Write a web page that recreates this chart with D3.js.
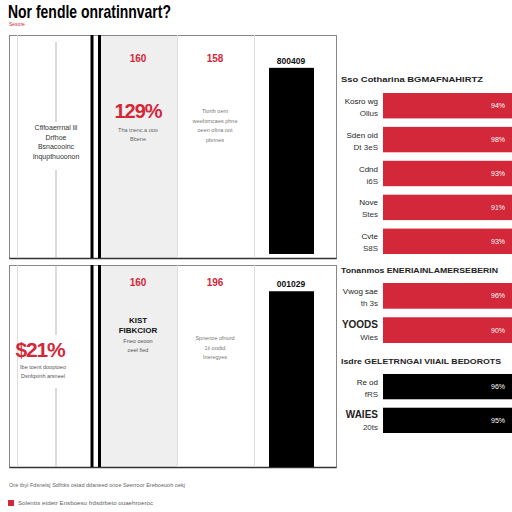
<!DOCTYPE html>
<html>
<head>
<meta charset="utf-8">
<script src="https://cdn.jsdelivr.net/npm/d3@7"></script>
<style>
  body { margin: 0; background: #fff; }
  text { font-family: "Liberation Sans", Arial, sans-serif; }
</style>
</head>
<body>
<div id="chart"></div>
<script>
// ---- data ----
var title = "Nor fendle onratinnvart?";
var subtitle = "Sesore";
var colHeads = [["160", "158"], ["160", "196"]];
var bigStats = ["129%", "$21%"];
var barTags = ["800409", "001029"];
var barValues = [85, 87];
var leftNotes = [
    ["Cflfoaerrnal lil", "Drfhoe", "Bsnacooinc", "Inqupthuoonon"],
    ["Ibe toent dooptoeo", "Dsnfqxinh arsneel"]
];
var statNotes = [["Tha tnenc.a ooo", "Bbene"], ["Fneo oeoon", "oeel fied"]];
var midNotes = [
    ["Tiorth oem", "weeforncaes phne", "oeen oltna oot", "pbnnes"],
    ["Spnenoe ofnurd", "1ii oodtd", "Ineregyes"]
];
var kicker = ["KIST", "FIBKCIOR"];

var groupTitles = ["Sso Cotharina BGMAFNAHIRTZ", "Tonanmos ENERIAINLAMERSEBERIN", "Isdre GELETRNGAI VIIAIL BEDOROTS"];
var topLabels = [["Kosro wg", "Ollus"], ["Sden oid", "Dt 3eS"], ["Cdnd", "i6S"], ["Nove", "Stes"], ["Cvte", "S8S"]];
var topValues = [94, 98, 93, 91, 93];
var redLabels = [["Vwog sae", "th 3s"], ["YOODS", "Wies"]];
var redValues = [96, 90];
var blackLabels = [["Re od", "fRS"], ["WAIES", "20ts"]];
var blackValues = [96, 95];

var footNote = "Ore tbyi Fdsnelsj Sdfrtks ostad ddaneed onoe Seerroor Ereboeuoh oekj";
var sourceNote = "Solentts etdetr Ensboesu frdsdrbeto ouaehroeroc";

var red = "#d2283a";

var W = 512, H = 512;
var svg = d3.select("#chart").append("svg")
    .attr("width", W)
    .attr("height", H);

svg.append("text")
    .attr("x", 8).attr("y", 18)
    .attr("font-size", 19).attr("font-weight", "bold")
    .attr("textLength", 163).attr("lengthAdjust", "spacingAndGlyphs")
    .attr("fill", "#000")
    .text(title);

svg.append("text")
    .attr("x", 9).attr("y", 26)
    .attr("font-size", 5).attr("fill", red)
    .text(subtitle);

// ---- left panels ----
var panels = [
    { top: 35, bottom: 258 },
    { top: 265, bottom: 467 }
];
var colX = [9, 17, 56, 92, 100, 177, 254, 336];

panels.forEach(function(p, i) {
    var g = svg.append("g");
    var y = d3.scaleLinear().domain([0, 100]).range([p.bottom - (i === 0 ? 4 : 0), p.top]);

    // grey column
    g.append("rect")
        .attr("x", colX[4]).attr("y", p.top)
        .attr("width", colX[5] - colX[4]).attr("height", p.bottom - p.top)
        .attr("fill", "#efefef");

    // frame
    g.append("rect")
        .attr("x", colX[0] + 0.5).attr("y", p.top + 0.5)
        .attr("width", colX[7] - colX[0]).attr("height", p.bottom - p.top)
        .attr("fill", "none").attr("stroke", "#888").attr("stroke-width", 1);
    g.append("line")
        .attr("x1", colX[0] + 0.5).attr("x2", colX[7] + 0.5)
        .attr("y1", p.bottom + 0.5).attr("y2", p.bottom + 0.5)
        .attr("stroke", "#333").attr("stroke-width", 1.5);

    [colX[1], colX[5], colX[6]].forEach(function(x) {
        g.append("line")
            .attr("x1", x + 0.5).attr("x2", x + 0.5)
            .attr("y1", p.top).attr("y2", p.bottom)
            .attr("stroke", "#ddd");
    });
    [colX[3], colX[4] - 0.5].forEach(function(x) {
        g.append("line")
            .attr("x1", x).attr("x2", x)
            .attr("y1", p.top).attr("y2", p.bottom)
            .attr("stroke", "#000").attr("stroke-width", 3);
    });

    // broken grey guide line in the first column
    var gap = i === 0 ? [122, 170] : [335, 388];
    [[p.top + (i === 0 ? 7 : 0), gap[0]], [gap[1], p.bottom]].forEach(function(s) {
        g.append("line")
            .attr("x1", colX[2]).attr("x2", colX[2])
            .attr("y1", s[0]).attr("y2", s[1])
            .attr("stroke", "#b5b5b5").attr("stroke-width", 1);
    });

    // column heads
    [138, 215].forEach(function(cx, k) {
        g.append("text")
            .attr("x", cx).attr("y", p.top + (i === 0 ? 27 : 21))
            .attr("text-anchor", "middle")
            .attr("font-size", 10).attr("font-weight", "bold")
            .attr("fill", red)
            .text(colHeads[i][k]);
    });

    // black bar
    g.append("rect")
        .attr("x", 269).attr("y", y(barValues[i]))
        .attr("width", 45).attr("height", y(0) - y(barValues[i]))
        .attr("fill", "#000");
    g.append("text")
        .attr("x", 291).attr("y", y(barValues[i]) - 4)
        .attr("text-anchor", "middle")
        .attr("font-size", 8.5).attr("font-weight", "bold")
        .attr("fill", "#111")
        .text(barTags[i]);
});

// top panel texts
var t0 = svg.append("g");
t0.selectAll("text.note")
    .data(leftNotes[0]).enter().append("text")
    .attr("x", 56).attr("y", function(d, k) { return 130 + k * 9.5; })
    .attr("text-anchor", "middle")
    .attr("font-size", 7).attr("fill", "#333")
    .text(d => d);

t0.append("text")
    .attr("x", 138).attr("y", 118)
    .attr("text-anchor", "middle")
    .attr("font-size", 20).attr("font-weight", "bold")
    .attr("letter-spacing", -1)
    .attr("fill", red)
    .text(bigStats[0]);
t0.selectAll("text.stat")
    .data(statNotes[0]).enter().append("text")
    .attr("x", 138).attr("y", function(d, k) { return 132 + k * 9; })
    .attr("text-anchor", "middle")
    .attr("font-size", 5.5).attr("fill", "#666")
    .text(d => d);
t0.selectAll("text.mid")
    .data(midNotes[0]).enter().append("text")
    .attr("x", 215).attr("y", function(d, k) { return 113 + k * 9.5; })
    .attr("text-anchor", "middle")
    .attr("font-size", 5.5).attr("fill", "#777")
    .text(d => d);

// bottom panel texts
var t1 = svg.append("g");
t1.append("text")
    .attr("x", 40).attr("y", 357)
    .attr("text-anchor", "middle")
    .attr("font-size", 21).attr("font-weight", "bold")
    .attr("letter-spacing", -1.2)
    .attr("fill", red)
    .text(bigStats[1]);
t1.selectAll("text.note")
    .data(leftNotes[1]).enter().append("text")
    .attr("x", 43).attr("y", function(d, k) { return 369 + k * 8.5; })
    .attr("text-anchor", "middle")
    .attr("font-size", 5.5).attr("fill", "#555")
    .text(d => d);
t1.selectAll("text.kick")
    .data(kicker).enter().append("text")
    .attr("x", 138).attr("y", function(d, k) { return 323 + k * 9.5; })
    .attr("text-anchor", "middle")
    .attr("font-size", 8).attr("font-weight", "bold")
    .attr("fill", "#111")
    .text(d => d);
t1.selectAll("text.stat")
    .data(statNotes[1]).enter().append("text")
    .attr("x", 138).attr("y", function(d, k) { return 343 + k * 9; })
    .attr("text-anchor", "middle")
    .attr("font-size", 5.5).attr("fill", "#555")
    .text(d => d);
t1.selectAll("text.mid")
    .data(midNotes[1]).enter().append("text")
    .attr("x", 215).attr("y", function(d, k) { return 340 + k * 9.5; })
    .attr("text-anchor", "middle")
    .attr("font-size", 5.5).attr("fill", "#777")
    .text(d => d);

// ---- right bar groups ----
var x = d3.scaleLinear().domain([0, 90]).range([0, W - 383]).clamp(true);

function barGroup(labels, values, color, range, header, headerY, headerLen) {
    var g = svg.append("g");
    g.append("text")
        .attr("x", 341).attr("y", headerY)
        .attr("font-size", 7.5).attr("font-weight", "bold")
        .attr("textLength", headerLen).attr("lengthAdjust", "spacingAndGlyphs")
        .attr("fill", "#222")
        .text(header);

    var y = d3.scaleBand()
        .domain(d3.range(values.length))
        .range(range)
        .paddingInner(0.25);

    g.selectAll("rect")
        .data(values).enter().append("rect")
        .attr("x", 383).attr("y", (d, k) => y(k))
        .attr("width", d => x(d)).attr("height", y.bandwidth())
        .attr("fill", color);

    g.selectAll("text.val")
        .data(values).enter().append("text")
        .attr("class", "val")
        .attr("x", 505).attr("y", (d, k) => y(k) + y.bandwidth() / 2 + 2.5)
        .attr("text-anchor", "end")
        .attr("font-size", 7).attr("fill", "#fff")
        .text(d => d + "%");

    labels.forEach(function(l, k) {
        var yy = y(k) + y.bandwidth() / 2;
        var bold = l[0] === l[0].toUpperCase();
        g.append("text")
            .attr("x", 378).attr("y", yy - 2)
            .attr("text-anchor", "end")
            .attr("font-size", bold ? 10 : 8)
            .attr("font-weight", bold ? "bold" : "normal")
            .attr("fill", "#222")
            .text(l[0]);
        g.append("text")
            .attr("x", 378).attr("y", yy + 10)
            .attr("text-anchor", "end")
            .attr("font-size", 8).attr("fill", "#333")
            .text(l[1]);
    });
}

barGroup(topLabels, topValues, red, [93, 254], groupTitles[0], 82, 142);
barGroup(redLabels, redValues, red, [283, 343], groupTitles[1], 273, 157);
barGroup(blackLabels, blackValues, "#000", [374, 433], groupTitles[2], 364, 160);

// ---- footer ----
svg.append("text")
    .attr("x", 9).attr("y", 487)
    .attr("font-size", 5.2).attr("fill", "#666")
    .attr("textLength", 176).attr("lengthAdjust", "spacingAndGlyphs")
    .text(footNote);
svg.append("rect")
    .attr("x", 8).attr("y", 500)
    .attr("width", 6).attr("height", 6)
    .attr("fill", red);
svg.append("text")
    .attr("x", 18).attr("y", 505)
    .attr("font-size", 5.2).attr("fill", "#666")
    .attr("textLength", 135).attr("lengthAdjust", "spacingAndGlyphs")
    .text(sourceNote);
</script>
</body>
</html>
